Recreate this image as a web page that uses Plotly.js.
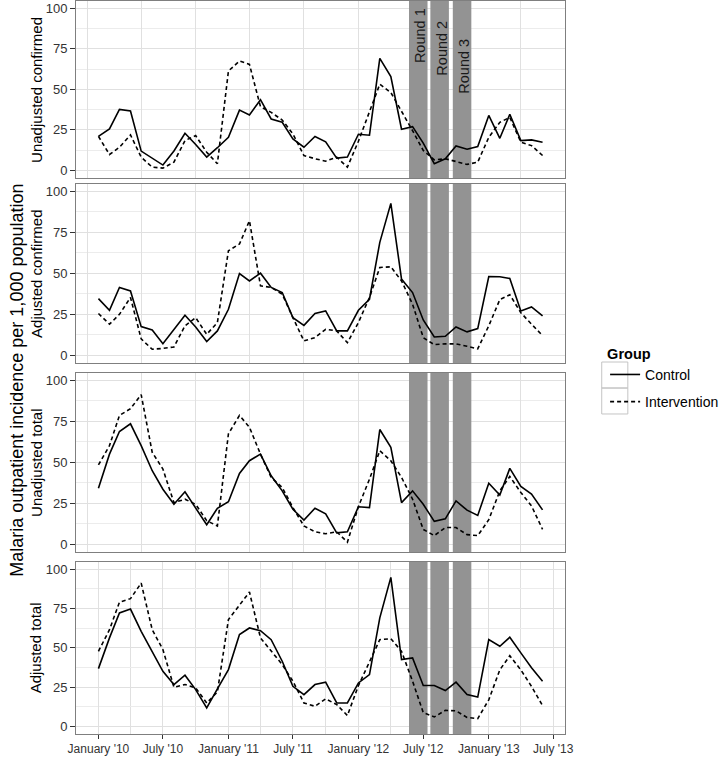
<!DOCTYPE html>
<html>
<head>
<meta charset="utf-8">
<script src="https://cdn.plot.ly/plotly-3.0.1.min.js"></script>
<style>body{margin:0;background:#fff}#chart{width:725px;height:760px}</style>
</head>
<body>
<div id="chart"></div>
<script>
// ---- data ----
const months = ["2010-01-01","2010-02-01","2010-03-01","2010-04-01","2010-05-01","2010-06-01",
"2010-07-01","2010-08-01","2010-09-01","2010-10-01","2010-11-01","2010-12-01",
"2011-01-01","2011-02-01","2011-03-01","2011-04-01","2011-05-01","2011-06-01",
"2011-07-01","2011-08-01","2011-09-01","2011-10-01","2011-11-01","2011-12-01",
"2012-01-01","2012-02-01","2012-03-01","2012-04-01","2012-05-01","2012-06-01",
"2012-07-01","2012-08-01","2012-09-01","2012-10-01","2012-11-01","2012-12-01",
"2013-01-01","2013-02-01","2013-03-01","2013-04-01","2013-05-01","2013-06-01"];

const panelNames = ["Unadjusted confirmed","Adjusted confirmed","Unadjusted total","Adjusted total"];
const groupNames = ["Control","Intervention"];

const unadjConfirmedControl = [21,25.6,37.6,36.6,11.9,7.5,3.3,12,22.9,16,8.2,14,20.4,37.2,34.2,43.6,31.7,29.7,19.4,14.3,20.9,17.6,7.6,8.2,22.3,21.7,69.1,57.9,25.4,27,16.8,4.1,7.2,15.1,13.1,14.7,33.9,19.8,34.6,18.4,18.8,17.4];
const unadjConfirmedInterv  = [21,9.8,14.3,21.9,8.2,2,1.4,5.1,18.4,21.5,11.2,4.1,61.3,67.5,65.4,39.3,35.8,31.1,22.5,9.2,7.2,5.7,8.2,2,18,36.8,53.2,48,36.8,24.5,12.3,6.5,7.2,5.5,3.7,5.1,20.4,29.7,32.7,17.4,15.3,9.2];
const adjConfirmedControl   = [34.6,27.5,41.4,39.3,17.5,15.5,7.1,15.9,24.5,17.3,8.4,14.9,28.1,49.9,45.4,50.1,41.4,38.3,23,18.3,25.5,27.1,14.9,14.9,27.5,34.2,68.9,92.7,46.5,38.3,21.6,11.2,11.6,17.3,14.3,16.3,48.1,47.9,46.9,27.1,29.5,24];
const adjConfirmedInterv    = [25.5,19,25,35.3,10,3.7,4.2,5.1,18,23,12.8,20,63.8,67.9,82.1,42.4,41.4,37.3,23,8.8,10.8,15.9,14.9,7.7,20,35.3,53.6,54,45.4,31.2,10.8,6.5,7,7,5.5,4,18,34,37,26,19,12];
const unadjTotalControl     = [34.2,55,68.8,73.5,60.2,44.9,33.6,24.4,32,22.4,11.9,22,26,43.2,51,55,41.8,32.6,21.4,14.8,22,18.6,7,7.6,22.9,22.4,70,59.2,25.4,32.6,24.4,14,15.5,26.5,20.8,17.6,37.3,30.1,46.3,35.3,30.6,21];
const unadjTotalInterv      = [48.4,60.2,78.6,82.7,91.3,56.1,45.9,25.4,27.5,24.4,14.4,11.2,67.4,78.6,71.4,55,40.8,34.7,22.4,11.2,7.6,6.4,7.6,1.3,23,39.7,57.1,51,40.8,27.5,9.1,5.3,10.2,10.2,5.9,5.3,15,32.6,41.4,31.6,23.4,9.1];
const adjTotalControl       = [36.8,56.3,72.1,74.6,60.5,47.8,35.1,26.7,32.6,23.5,11.9,23.9,36.2,58.4,62.6,60.9,55.2,41.5,25.6,20.3,26.7,28.2,15,15,27.7,33,69,94.7,42.5,43.6,26.1,26.1,22.9,28.2,20.3,18.7,55.2,51,56.7,46.8,37.3,28.8];
const adjTotalInterv        = [47.8,61.5,79,81.2,91.1,61.5,48.9,25,26.7,24.6,15,22,67.9,77.4,85.4,56.3,47.8,39.4,28.8,15,12.9,17.6,14,7,26,41.5,55.2,55.8,47.8,28.8,8.9,6.1,10.3,10,5.8,5.1,17,36,45,36,25.5,13.3];

const roundLabels = ["Round 1","Round 2","Round 3"];
const roundStart  = ["2012-05-22","2012-07-21","2012-09-22"];
const roundEnd    = ["2012-07-13","2012-09-11","2012-11-13"];
const roundLabelY = [83,75.5,64];

const yTicks = [0,25,50,75,100];
const topGridDates = ["2009-12-01","2010-05-01","2010-10-01","2011-03-01","2011-08-01","2012-01-01","2012-06-01","2012-11-01","2013-04-01"];

// ---- build ----
const seriesByPanel = [
  [unadjConfirmedControl, unadjConfirmedInterv],
  [adjConfirmedControl, adjConfirmedInterv],
  [unadjTotalControl, unadjTotalInterv],
  [adjTotalControl, adjTotalInterv]
];
const FONT = "Liberation Sans, Arial, Helvetica, sans-serif";
const xRange = ["2009-10-30","2013-08-03"];
const yRange = [-4.7,104.5];
const domains = [[0.7585,1.0],[0.5061,0.7503],[0.2483,0.4925],[0,0.2347]];

const traces = [];
seriesByPanel.forEach((pair, p) => {
  const sfx = p === 0 ? "" : String(p+1);
  const xs = [], ys = [];
  for (let r = 0; r < roundStart.length; r++) {
    xs.push(roundStart[r], roundStart[r], roundEnd[r], roundEnd[r], roundStart[r], null);
    ys.push(yRange[0], yRange[1], yRange[1], yRange[0], yRange[0], null);
  }
  traces.push({
    type: "scatter", mode: "lines", x: xs, y: ys,
    xaxis: "x"+sfx, yaxis: "y"+sfx,
    fill: "toself", fillcolor: "#939393", line: {width: 0, color: "#939393"},
    showlegend: false, hoverinfo: "skip"
  });
});
seriesByPanel.forEach((pair, p) => {
  const sfx = p === 0 ? "" : String(p+1);
  pair.forEach((vals, g) => {
    traces.push({
      type: "scatter", mode: "lines",
      x: months, y: vals,
      xaxis: "x"+sfx, yaxis: "y"+sfx,
      name: groupNames[g],
      legendgroup: groupNames[g],
      showlegend: p === 0,
      line: {color: "#000", width: 1.6, dash: g === 0 ? "solid" : "4px,3px"},
      hoverinfo: "skip"
    });
  });
});

const layout = {
  width: 725, height: 760,
  margin: {l: 76, r: 143, t: 1, b: 26},
  paper_bgcolor: "#fff", plot_bgcolor: "#fff",
  font: {family: FONT, size: 13, color: "#333"},
  showlegend: true,
  legend: {
    x: 1.082, xanchor: "left", y: 0.5375, yanchor: "top",
    title: {text: "<b>Group</b>", font: {size: 14.5, color: "#000"}},
    font: {size: 14, color: "#000"},
    tracegroupgap: 6,
    bgcolor: "rgba(0,0,0,0)"
  },
  shapes: [
    {type: "rect", xref: "paper", yref: "paper", x0: 1.0751, x1: 1.1285, y0: 0.4720, y1: 0.5075,
     line: {color: "#c4c4c4", width: 1}, fillcolor: "rgba(0,0,0,0)", layer: "above"},
    {type: "rect", xref: "paper", yref: "paper", x0: 1.0751, x1: 1.1285, y0: 0.4366, y1: 0.4720,
     line: {color: "#c4c4c4", width: 1}, fillcolor: "rgba(0,0,0,0)", layer: "above"}
  ],
  annotations: []
};

for (let p = 0; p < 4; p++) {
  const sfx = p === 0 ? "" : String(p+1);
  const xa = {
    domain: [0,1], anchor: "y"+sfx, type: "date", range: xRange,
    showgrid: true, gridcolor: "#e0e0e0", gridwidth: 1,
    showline: true, mirror: true, linecolor: "#7f7f7f", linewidth: 1,
    zeroline: false, fixedrange: true
  };
  if (p < 3) {
    xa.tickmode = "array"; xa.tickvals = topGridDates; xa.showticklabels = false; xa.ticks = "";
  } else {
    xa.tick0 = "2010-01-01"; xa.dtick = "M6"; xa.tickformat = "%B '%y";
    xa.ticks = "outside"; xa.ticklen = 4; xa.tickcolor = "#333";
    xa.tickfont = {size: 12, color: "#333"};
    xa.minor = {tick0: "2010-01-01", dtick: "M3", showgrid: true, gridcolor: "#e0e0e0", ticks: ""};
  }
  layout["xaxis"+sfx] = xa;
  layout["yaxis"+sfx] = {
    domain: domains[p], anchor: "x"+sfx, range: yRange,
    tickmode: "array", tickvals: yTicks,
    ticks: "outside", ticklen: 5, tickcolor: "#333", tickwidth: 1,
    tickfont: {size: 13, color: "#333"},
    showgrid: true, gridcolor: "#e0e0e0",
    minor: {tick0: 0, dtick: 12.5, showgrid: true, gridcolor: "#ececec", ticks: ""},
    showline: true, mirror: true, linecolor: "#7f7f7f", linewidth: 1,
    zeroline: false, fixedrange: true
  };
  layout.annotations.push({
    xref: "paper", yref: "paper",
    x: -0.081, y: (domains[p][0]+domains[p][1])/2,
    xanchor: "center", yanchor: "middle",
    text: panelNames[p], textangle: -90, showarrow: false,
    font: {size: 15, color: "#000"}
  });
}

for (let r = 0; r < roundLabels.length; r++) {
  const mid = new Date((new Date(roundStart[r]).getTime() + new Date(roundEnd[r]).getTime())/2).toISOString().slice(0,10);
  layout.annotations.push({
    xref: "x", yref: "y", x: mid, y: roundLabelY[r], xshift: 2,
    text: roundLabels[r], textangle: -90, showarrow: false,
    xanchor: "center", yanchor: "middle",
    font: {size: 14.5, color: "#1a1a1a"}
  });
}

layout.annotations.push({
  xref: "paper", yref: "paper", x: -0.121, y: 0.483,
  xanchor: "center", yanchor: "middle",
  text: "Malaria outpatient incidence per 1,000 population", textangle: -90, showarrow: false,
  font: {size: 18, color: "#000"}
});

Plotly.newPlot("chart", traces, layout, {displayModeBar: false, staticPlot: true});
</script>
</body>
</html>
